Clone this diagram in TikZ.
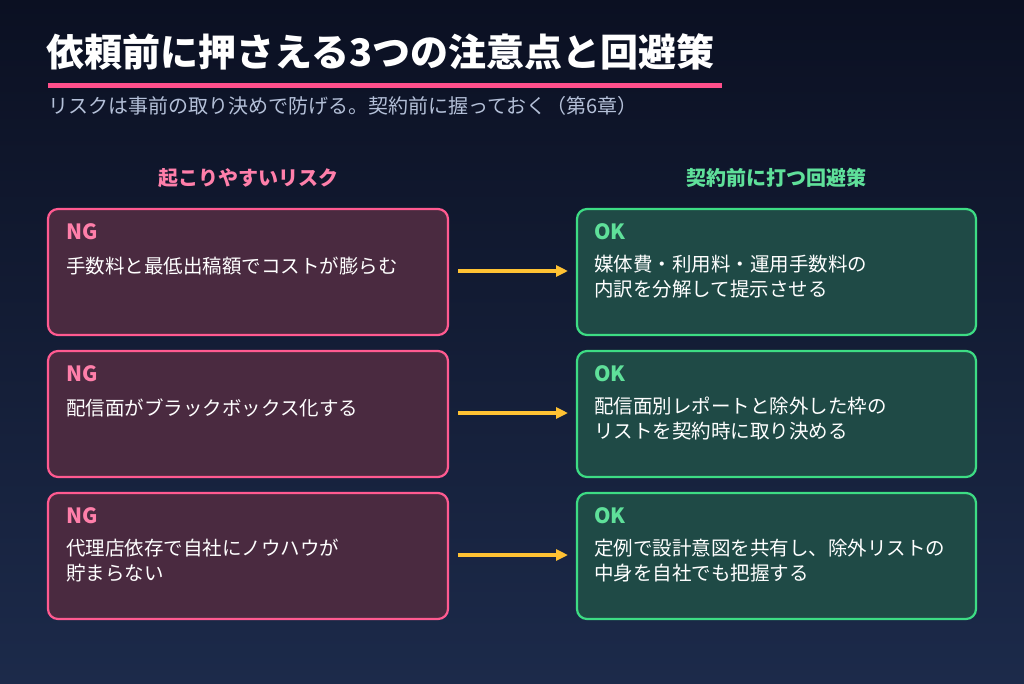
\documentclass[tikz,border=0pt]{standalone}
\usepackage{fontspec}
\setmainfont{Noto Sans CJK JP}
\usetikzlibrary{arrows.meta}
\definecolor{bgtop}{HTML}{0B1022}
\definecolor{bgbot}{HTML}{1C2A4A}
\definecolor{pinkline}{HTML}{FF4F8B}
\definecolor{subc}{HTML}{B4C0D8}
\definecolor{pinkhead}{HTML}{FF7FAA}
\definecolor{greenhead}{HTML}{5FE09A}
\definecolor{ngfill}{HTML}{4A2A40}
\definecolor{ngdraw}{HTML}{FF5A90}
\definecolor{okfill}{HTML}{1F4A46}
\definecolor{okdraw}{HTML}{3DDC84}
\definecolor{arr}{HTML}{FFC233}
\begin{document}
\begin{tikzpicture}[x=1pt,y=-1pt,
  ng/.style={draw=ngdraw,fill=ngfill,line width=2.2pt,rounded corners=10pt},
  ok/.style={draw=okdraw,fill=okfill,line width=2.2pt,rounded corners=10pt},
  lab/.style={anchor=west,inner sep=0pt,font=\bfseries\fontsize{21}{24}\selectfont},
  txt/.style={anchor=west,text=white,font=\fontsize{19.5}{25}\selectfont,align=left,inner sep=0pt},
  con/.style={arr,line width=4pt,-{Triangle[length=12pt,width=11pt]}}]
\shade[top color=bgtop,bottom color=bgbot] (0,0) rectangle (1024,683);
\useasboundingbox (0,0) rectangle (1024,683);
\node[anchor=west,text=white,inner sep=0pt,font=\bfseries\fontsize{38}{40}\selectfont] (title) at (46,52) {依頼前に押さえる3つの注意点と回避策};
\fill[pinkline] (48,82.5) rectangle (722,87.5);
\node[anchor=west,text=subc,inner sep=0pt,font=\fontsize{20}{22}\selectfont] (sub) at (48,106) {リスクは事前の取り決めで防げる。契約前に握っておく（第6章）};
\node[text=pinkhead,font=\bfseries\fontsize{20}{22}\selectfont] (h1) at (248,178) {起こりやすいリスク};
\node[text=greenhead,font=\bfseries\fontsize{20}{22}\selectfont] (h2) at (776,178) {契約前に打つ回避策};
\foreach \i/\y in {1/209,2/351,3/493}{
  \draw[ng] (48,\y) rectangle (448,\y+126);
  \draw[ok] (577,\y) rectangle (976,\y+126);
  \node[lab,text=pinkhead] at (66,\y+23) {NG};
  \node[lab,text=greenhead] at (594,\y+23) {OK};
  \coordinate (a\i) at (458,\y+62);
  \coordinate (b\i) at (568,\y+62);
  \draw[con] (a\i) -- (b\i);
}
\node[txt] (n1) at (66,266) {手数料と最低出稿額でコストが膨らむ};
\node[txt,anchor=north west] (o1) at (594,255) {媒体費・利用料・運用手数料の\\内訳を分解して提示させる};
\node[txt] (n2) at (66,408) {配信面がブラックボックス化する};
\node[txt,anchor=north west] (o2) at (594,397) {配信面別レポートと除外した枠の\\リストを契約時に取り決める};
\node[txt,anchor=north west] (n3) at (66,539) {代理店依存で自社にノウハウが\\貯まらない};
\node[txt,anchor=north west] (o3) at (594,539) {定例で設計意図を共有し、除外リストの\\中身を自社でも把握する};
\end{tikzpicture}
\end{document}
